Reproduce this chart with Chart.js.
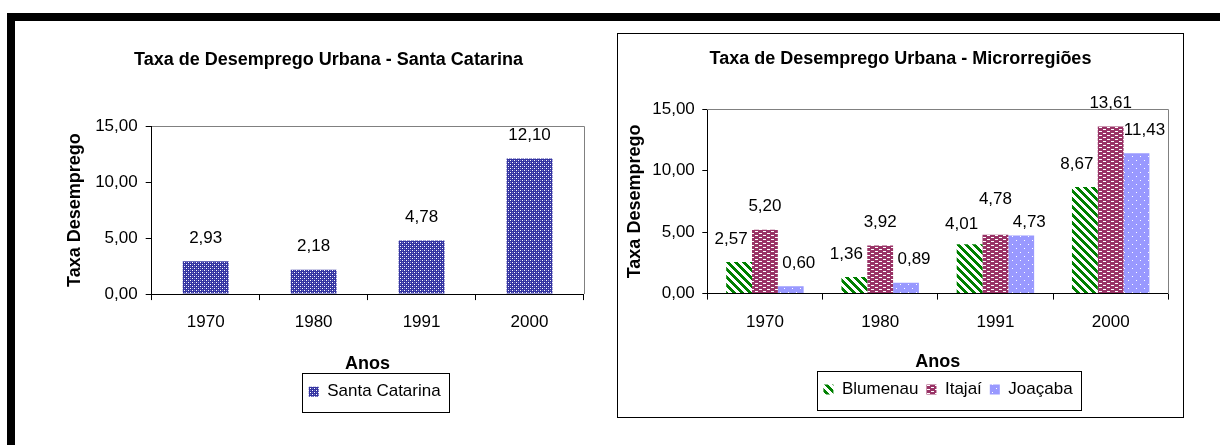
<!DOCTYPE html>
<html>
<head>
<meta charset="utf-8">
<script src="https://cdn.jsdelivr.net/npm/chart.js@4.4.1/dist/chart.umd.min.js"></script>
<style>
    body { margin: 0; background: #fff; width: 1220px; height: 445px; overflow: hidden; position: relative; }
    #barraTopo { position: absolute; left: 7px; top: 13px; width: 1213px; height: 8px; background: #000; }
    #barraEsq { position: absolute; left: 7px; top: 13px; width: 8px; height: 432px; background: #000; }
    #boxSC { position: absolute; left: 15px; top: 21px; width: 595px; height: 424px; }
    #boxMR { position: absolute; left: 617px; top: 33px; width: 565px; height: 383px; border: 1px solid #000; background: #fff; }
    canvas { display: block; }
</style>
</head>
<body>
<div id="barraTopo"></div>
<div id="barraEsq"></div>
<div id="boxSC"><canvas id="chartSC" width="595" height="424"></canvas></div>
<div id="boxMR"><canvas id="chartMR" width="565" height="383"></canvas></div>

<script>
// dados
const anos = ['1970', '1980', '1991', '2000'];
const santaCatarina = [2.93, 2.18, 4.78, 12.10];
const blumenau = [2.57, 1.36, 4.01, 8.67];
const itajai = [5.20, 3.92, 4.78, 13.61];
const joacaba = [0.60, 0.89, 4.73, 11.43];
const yTicks = [0, 5, 10, 15];

const familia = '"Liberation Sans", Arial, sans-serif';
const fonteTitulo = { family: familia, size: 18, weight: 'bold', lineHeight: 1.2 };
const fonteTexto = { family: familia, size: 17, lineHeight: 1.2 };

function fmt(v) {
    return Number(v).toFixed(2).replace('.', ',');
}

// padroes de preenchimento estilo Excel
function padrao(w, h, fundo, pinta) {
    const c = document.createElement('canvas');
    c.width = w; c.height = h;
    const g = c.getContext('2d');
    g.fillStyle = fundo;
    g.fillRect(0, 0, w, h);
    pinta(g);
    return g.createPattern(c, 'repeat');
}

const padraoSC = padrao(4, 4, '#3333a0', g => {
    g.fillStyle = '#ffffff';
    g.fillRect(1, 1, 1, 1);
    g.fillRect(3, 3, 1, 1);
    g.fillStyle = '#7777cc';
    g.fillRect(1, 3, 1, 1);
    g.fillRect(3, 1, 1, 1);
});
const padraoBlumenau = padrao(8, 8, '#ffffff', g => {
    g.fillStyle = '#008000';
    for (let y = 0; y < 8; y++) {
        for (let x = 0; x < 8; x++) {
            if (((x - y) % 8 + 8) % 8 < 4) g.fillRect(x, y, 1, 1);
        }
    }
});
const padraoItajai = padrao(8, 4, '#993366', g => {
    g.fillStyle = '#ffffff';
    g.fillRect(1, 1, 3, 1);
    g.fillRect(5, 3, 3, 1);
});
const padraoJoacaba = padrao(8, 8, '#9999ff', g => {
    g.fillStyle = '#ffffff';
    g.fillRect(2, 2, 1, 1);
    g.fillRect(6, 6, 1, 1);
});

// moldura cinza, rotulos de valor e caixa da legenda
const estiloExcel = {
    id: 'estiloExcel',
    afterLayout(chart, args, opts) {
        const centraliza = (box, cx) => {
            if (!box || cx == null) return;
            const w = box.right - box.left;
            box.left = cx - w / 2;
            box.right = box.left + w;
        };
        centraliza(chart.titleBlock, opts.tituloX);
        centraliza(chart.legend, opts.legendaX);
    },
    beforeDatasetsDraw(chart) {
        const { ctx, chartArea: a } = chart;
        ctx.save();
        ctx.strokeStyle = '#808080';
        ctx.lineWidth = 1;
        ctx.beginPath();
        ctx.moveTo(Math.round(a.left), Math.round(a.top) + 0.5);
        ctx.lineTo(Math.round(a.right) + 0.5, Math.round(a.top) + 0.5);
        ctx.lineTo(Math.round(a.right) + 0.5, Math.round(a.bottom));
        ctx.stroke();
        ctx.restore();
    },
    afterDatasetsDraw(chart, args, opts) {
        const ctx = chart.ctx;
        ctx.save();
        ctx.font = '17px ' + familia;
        ctx.fillStyle = '#000';
        ctx.textAlign = 'center';
        ctx.textBaseline = 'middle';
        chart.data.datasets.forEach((ds, di) => {
            const meta = chart.getDatasetMeta(di);
            meta.data.forEach((bar, i) => {
                const dx = (opts.dx || [])[di] || 0;
                const dy = (opts.ajuste || {})[di + '-' + i] || 0;
                ctx.fillText(fmt(ds.data[i]), bar.x + dx, bar.y - 23 + dy);
            });
        });
        ctx.restore();
    },
    afterDraw(chart) {
        const hb = chart.legend && chart.legend.legendHitBoxes;
        if (!hb || !hb.length) return;
        const ctx = chart.ctx;
        const l = Math.min(...hb.map(h => h.left)) - 6.5;
        const r = Math.max(...hb.map(h => h.left + h.width)) + 8.5;
        const cy = hb[0].top + hb[0].height / 2;
        ctx.save();
        ctx.strokeStyle = '#000';
        ctx.lineWidth = 1;
        ctx.strokeRect(Math.round(l) + 0.5, Math.round(cy - 19) + 0.5, Math.round(r - l), 39);
        ctx.restore();
    }
};

function escalas(c) {
    return {
        x: {
            offset: true,
            grid: { offset: true, drawOnChartArea: false, drawTicks: true, tickLength: 6, color: '#000' },
            border: { color: '#000' },
            ticks: { color: '#000', font: fonteTexto, padding: c.xPad },
            title: { display: true, text: 'Anos', color: '#000', font: fonteTitulo,
                     padding: { top: c.xTitTop, bottom: c.xTitBottom } }
        },
        y: {
            min: yTicks[0],
            max: yTicks[yTicks.length - 1],
            afterFit: s => { s.width = c.yLargura; },
            grid: { drawOnChartArea: false, tickLength: c.yTick, color: '#000' },
            border: { color: '#000' },
            ticks: { stepSize: yTicks[1] - yTicks[0], color: '#000', font: fonteTexto, padding: c.yPad,
                     callback: v => fmt(v) },
            title: { display: true, text: 'Taxa Desemprego', color: '#000', font: fonteTitulo,
                     padding: { top: c.yTitTop, bottom: 0 } }
        }
    };
}

function opcoes(c) {
    return {
        responsive: false,
        animation: false,
        devicePixelRatio: 1,
        layout: { padding: c.pad },
        plugins: {
            title: { display: true, text: c.titulo, color: '#000', font: fonteTitulo,
                     padding: { top: c.titTop, bottom: c.titBottom } },
            legend: { position: 'bottom',
                      labels: { boxWidth: 10, boxHeight: 10, padding: 8, color: '#000', font: fonteTexto } },
            tooltip: { enabled: false },
            estiloExcel: { tituloX: c.tituloX, legendaX: c.legendaX, dx: c.dx, ajuste: c.ajuste }
        },
        scales: escalas(c)
    };
}

new Chart(document.getElementById('chartSC'), {
    type: 'bar',
    data: {
        labels: anos,
        datasets: [{
            label: 'Santa Catarina', data: santaCatarina, backgroundColor: padraoSC, borderWidth: 0,
            categoryPercentage: 0.85, barPercentage: 0.5
        }]
    },
    options: opcoes({
        titulo: 'Taxa de Desemprego Urbana - Santa Catarina',
        pad: { left: 45, right: 26.5, top: 0, bottom: 34.7 },
        titTop: 28.2, titBottom: 55.2,
        yLargura: 91.7, yTick: 6, yPad: 8, yTitTop: 4.2,
        xPad: 12.5, xTitTop: 8.2, xTitBottom: 0,
        tituloX: 313.5, legendaX: 359.7
    }),
    plugins: [estiloExcel]
});

new Chart(document.getElementById('chartMR'), {
    type: 'bar',
    data: {
        labels: anos,
        datasets: [
            { label: 'Blumenau', data: blumenau, backgroundColor: padraoBlumenau, borderWidth: 0,
              categoryPercentage: 0.672, barPercentage: 1 },
            { label: 'Itajaí', data: itajai, backgroundColor: padraoItajai, borderWidth: 0,
              categoryPercentage: 0.672, barPercentage: 1 },
            { label: 'Joaçaba', data: joacaba, backgroundColor: padraoJoacaba, borderWidth: 0,
              categoryPercentage: 0.672, barPercentage: 1 }
        ]
    },
    options: opcoes({
        titulo: 'Taxa de Desemprego Urbana - Microrregiões',
        pad: { left: 2, right: 14.7, top: 0, bottom: 9 },
        titTop: 14.2, titBottom: 39.5,
        yLargura: 87.3, yTick: 5, yPad: 7.5, yTitTop: 4.2,
        xPad: 13, xTitTop: 5.4, xTitBottom: 0,
        tituloX: 282.5, legendaX: 330,
        dx: [-8, 0, 8],
        ajuste: { '0-2': 3, '1-2': -12.5, '2-2': 10 }
    }),
    plugins: [estiloExcel]
});
</script>
</body>
</html>
